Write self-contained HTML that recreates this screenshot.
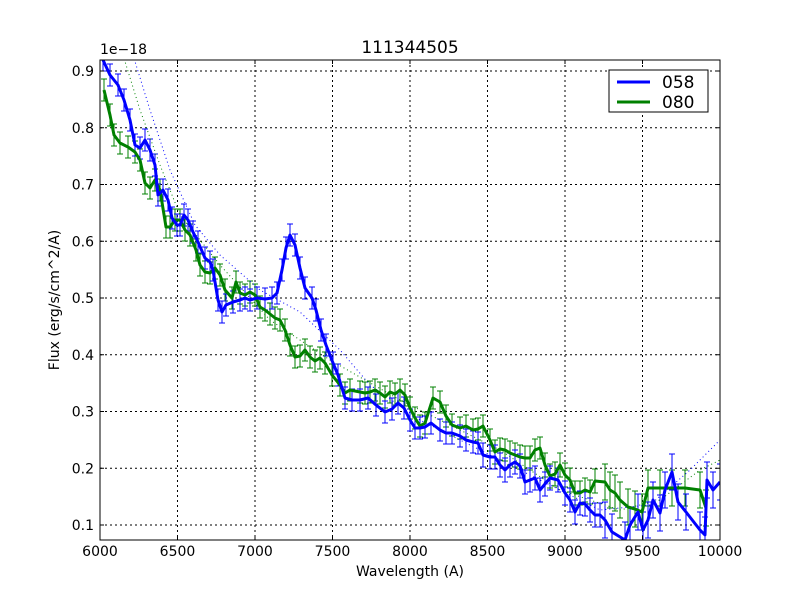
<!DOCTYPE html>
<html><head><style>body{margin:0;background:#fff}svg{font-family:"DejaVu Sans","Liberation Sans",sans-serif}</style></head>
<body>
<svg width="800" height="600" xmlns="http://www.w3.org/2000/svg">
<rect width="800" height="600" fill="#fff"/>
<defs><clipPath id="c"><rect x="100" y="60" width="620" height="480"/></clipPath></defs>
<g id="grid" stroke="#000" stroke-width="1" stroke-dasharray="2,3"></g>
<g clip-path="url(#c)" id="data"></g>
<rect x="100" y="60" width="620" height="480" fill="none" stroke="#000"/>
<g id="ticks" stroke="#000"></g>
<g id="labels" font-size="14" fill="#000"></g>
<text x="410" y="53" font-size="17" text-anchor="middle">111344505</text>
<text x="100" y="54" font-size="14">1e−18</text>
<text x="410" y="576" font-size="14" text-anchor="middle">Wavelength (A)</text>
<text transform="translate(59,300) rotate(-90)" font-size="14" text-anchor="middle">Flux (erg/s/cm^2/A)</text>
<rect x="609" y="70" width="99" height="42" fill="#fff" stroke="#000"/>
<line x1="617" y1="82" x2="650" y2="82" stroke="#00f" stroke-width="3"/>
<line x1="617" y1="102" x2="650" y2="102" stroke="#008000" stroke-width="3"/>
<text x="662" y="88" font-size="17">058</text>
<text x="662" y="108" font-size="17">080</text>
</svg>
<script>
const NS="http://www.w3.org/2000/svg";
function el(p,t,a,txt){const e=document.createElementNS(NS,t);for(const k in a)e.setAttribute(k,a[k]);if(txt!==undefined)e.textContent=txt;document.getElementById(p).appendChild(e);}
for(let i=0;i<=8;i++){const x=100+i*77.5;el('grid','line',{x1:x,y1:60,x2:x,y2:540});el('ticks','line',{x1:x,y1:540,x2:x,y2:536});el('ticks','line',{x1:x,y1:60,x2:x,y2:64});el('labels','text',{x:x,y:556,'text-anchor':'middle'},String(6000+i*500));}
for(let i=1;i<=9;i++){const y=581.75-i*0.1*567.5;el('grid','line',{x1:100,y1:y,x2:720,y2:y});el('ticks','line',{x1:100,y1:y,x2:104,y2:y});el('ticks','line',{x1:720,y1:y,x2:716,y2:y});el('labels','text',{x:94,y:y+5,'text-anchor':'end'},(i/10).toFixed(1));}
const B=[[103,60],[110,75],[118,85],[124,100],[130,120],[135,145],[140,148],[145,140],[150,150],[155,165],[158,195],[163,190],[168,200],[172,218],[177,225],[180,225],[184,215],[188,220],[193,232],[198,242],[205,258],[210,262],[213,270],[218,300],[222,312],[226,305],[233,302],[240,300],[245,298],[250,300],[257,298],[265,299],[272,298],[277,293],[282,270],[286,248],[290,235],[295,245],[300,268],[305,288],[312,298],[316,310],[321,330],[326,345],[333,363],[338,375],[345,398],[352,400],[360,400],[368,398],[376,405],[385,412],[392,409],[398,403],[404,408],[410,420],[415,428],[420,428],[425,427],[431,423],[440,430],[446,433],[452,433],[460,436],[466,440],[473,442],[478,443],[483,455],[490,457],[495,457],[500,465],[505,470],[510,465],[515,462],[520,466],[525,482],[530,480],[535,478],[540,490],[545,484],[550,478],[558,480],[565,493],[570,500],[575,512],[580,503],[585,504],[590,510],[595,515],[600,515],[605,520],[612,532],[625,540],[630,525],[638,512],[643,530],[648,520],[653,500],[660,513],[665,490],[672,472],[678,502],[686,512],[700,530],[705,535],[707,480],[713,490],[720,482]];
const G=[[104,90],[110,115],[114,135],[120,143],[128,147],[135,152],[140,160],[145,183],[150,188],[155,180],[160,190],[166,227],[170,227],[175,220],[180,220],[185,230],[190,235],[196,250],[200,265],[205,272],[210,273],[215,268],[220,275],[225,290],[232,298],[236,282],[240,293],[245,295],[250,292],[255,295],[260,307],[265,310],[270,314],[275,318],[280,320],[285,330],[290,345],[295,357],[300,356],[305,350],[310,357],[315,361],[320,358],[325,363],[332,375],[340,385],[345,393],[350,390],[360,392],[365,393],[370,392],[375,390],[380,393],[385,397],[390,392],[395,394],[400,390],[405,395],[410,408],[415,418],[420,426],[425,423],[433,398],[440,402],[446,416],[452,425],[460,428],[466,426],[473,430],[478,429],[483,426],[490,440],[495,452],[500,449],[505,450],[510,453],[515,455],[520,457],[525,458],[530,458],[535,450],[540,448],[545,465],[550,476],[555,474],[560,465],[565,475],[570,480],[575,493],[580,493],[585,490],[590,492],[595,481],[605,482],[610,490],[615,493],[620,500],[628,507],[635,509],[642,512],[648,488],[660,488],[672,488],[685,488],[700,490],[706,508]];
const BD=[[133,55],[150,110],[170,170],[195,225],[220,255],[260,290],[300,312],[340,350],[370,385],[420,420],[500,460],[600,510],[650,505],[690,470],[720,440]];
const GD=[[123,55],[140,110],[160,165],[180,215],[220,265],[270,320],[330,360],[400,400],[500,450],[560,490],[620,510],[660,500],[700,470],[720,460]];
function eb(P,c){P.forEach((p,i)=>{const x=p[0],y=p[1];const e=(y>450?(x>600?18:12):11);el('data','line',{x1:x,y1:y-e,x2:x,y2:y+e,stroke:c,'stroke-width':1});el('data','line',{x1:x-3,y1:y-e,x2:x+3,y2:y-e,stroke:c});el('data','line',{x1:x-3,y1:y+e,x2:x+3,y2:y+e,stroke:c});});}
eb(G,'#008000');eb(B,'#00f');
el('data','polyline',{points:BD.join(' '),fill:'none',stroke:'#00f','stroke-dasharray':'1,3'});
el('data','polyline',{points:GD.join(' '),fill:'none',stroke:'#008000','stroke-dasharray':'1,3'});
el('data','polyline',{points:G.join(' '),fill:'none',stroke:'#008000','stroke-width':3,'stroke-linejoin':'round'});
el('data','polyline',{points:B.join(' '),fill:'none',stroke:'#00f','stroke-width':3,'stroke-linejoin':'round'});
</script>
</body></html>
